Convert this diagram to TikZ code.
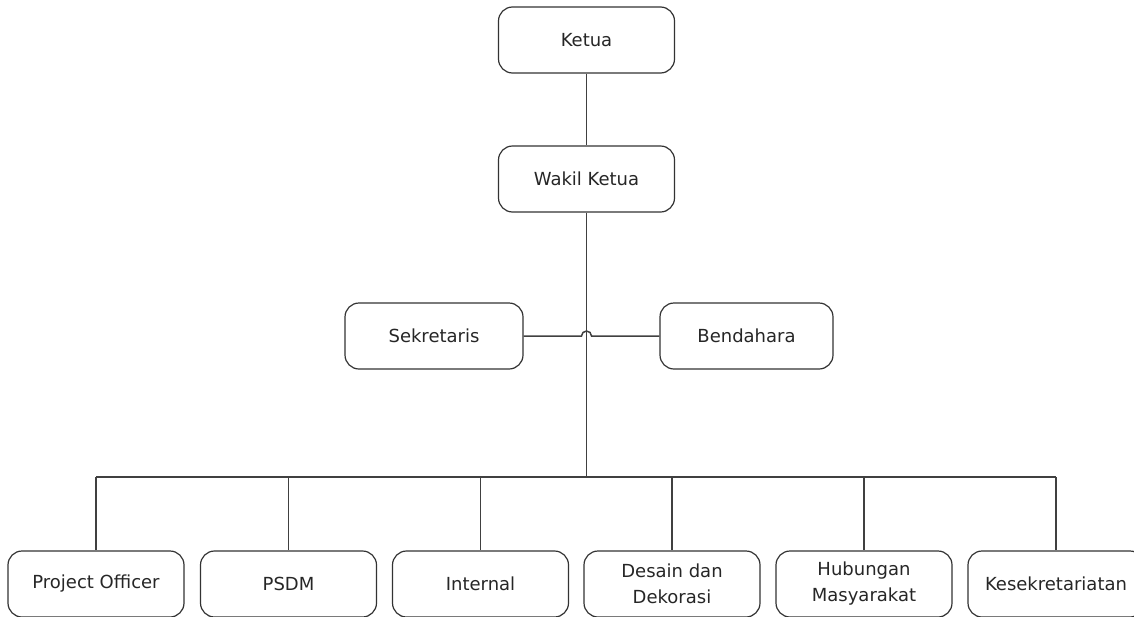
\documentclass[tikz,border=0pt]{standalone}
\usepackage{fontspec}
\setmainfont{DejaVu Sans}
\usetikzlibrary{calc}
\begin{document}
\begin{tikzpicture}[x=1pt,y=-1pt]
      \tikzstyle{unit box}=[draw=black!80, rounded corners=14pt, line width=1.2pt, minimum width=176pt, minimum height=66pt, inner sep=0pt, align=center, text=black!85, font=\fontsize{18}{26}\selectfont]
      \tikzstyle{link}=[draw=black!75, line width=1.5pt]

      \useasboundingbox (0,0) rectangle (1134,616);

      \node [unit box] (ketua) at (586.5,40){Ketua};
      \node [unit box] (wakil) at (586.5,179){Wakil Ketua};
      \node [unit box, minimum width=178pt] (sekre) at (434,336){Sekretaris};
      \node [unit box, minimum width=173pt] (bende) at (746.5,336){Bendahara};

      \node [unit box] (po) at (96,584){Project Officer};
      \node [unit box] (psdm) at (288.5,584){PSDM};
      \node [unit box] (internal) at (480.5,584){Internal};
      \node [unit box] (desain) at (672,584){Desain dan\\Dekorasi};
      \node [unit box] (humas) at (864,584){Hubungan\\Masyarakat};
      \node [unit box] (kesek) at (1056,584){Kesekretariatan};

      \coordinate (bus) at (586.5,477);

      \draw [link] (ketua) -- (wakil);
      \draw [link] (wakil.south) -- (bus);
      \draw [link] (sekre.east) -- ($(sekre.east -| wakil.south)+(-5,0)$) arc[start angle=180, end angle=0, radius=5pt] -- (bende.west);

      \draw [link] (po.north |- bus) -- (kesek.north |- bus);
      \foreach \n in {po,psdm,internal,desain,humas,kesek}
        \draw [link] (\n.north |- bus) -- (\n.north);

    \end{tikzpicture}
\end{document}
